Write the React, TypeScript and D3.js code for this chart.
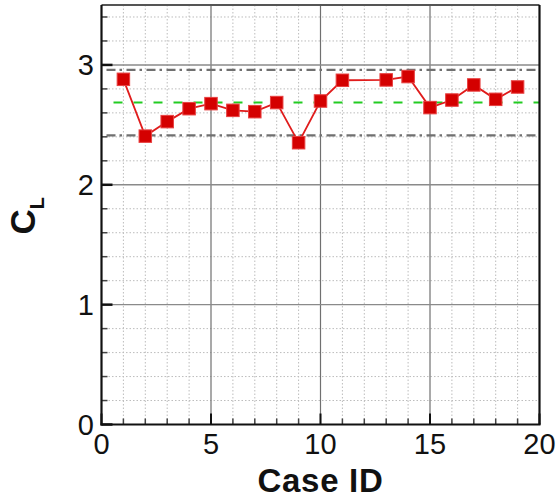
import React from "react";
import * as d3 from "d3";

// Lift coefficient for each case
const caseIds = [1, 2, 3, 4, 5, 6, 7, 8, 9, 10, 11, 13, 14, 15, 16, 17, 18, 19];
const clValues = [2.88, 2.406, 2.527, 2.635, 2.677, 2.621, 2.61, 2.686, 2.351, 2.699, 2.872, 2.875, 2.903, 2.644, 2.707, 2.833, 2.713, 2.816];

// Reference levels: mean and the upper/lower bounds
const meanLevel = 2.686;
const boundLevels = [2.958, 2.412];

const xTicks = [0, 5, 10, 15, 20];
const yTicks = [0, 1, 2, 3];

const W = 559;
const H = 502;
const left = 101.5;
const right = 539.5;
const top = 5;
const bottom = 424.5;

export default function App() {
  const x = d3.scaleLinear().domain([0, 20]).range([left, right]);
  const y = d3.scaleLinear().domain([0, 3.5]).range([bottom, top]);

  const xMinor = d3.range(1, 20).filter((v) => v % 5 !== 0);
  const yMinor = d3.range(1, 18).map((i) => +(i * 0.2).toFixed(2)).filter((v) => Math.abs(v - Math.round(v)) > 1e-6);

  const line = d3
    .line<number>()
    .x((_, i) => x(caseIds[i]))
    .y((d) => y(d));

  const font = "'Liberation Sans', Arial, Helvetica, sans-serif";
  const m = 12.5;

  return (
    <svg
      width={W}
      height={H}
      style={{ position: "absolute", left: 0, top: 0, background: "#fff" }}
      fontFamily={font}
    >
      {/* minor grid */}
      {xMinor.map((v) => (
        <line key={"xm" + v} x1={x(v)} x2={x(v)} y1={top} y2={bottom} stroke="#bcbcbc" strokeWidth={1} strokeDasharray="1.5,2" />
      ))}
      {yMinor.map((v) => (
        <line key={"ym" + v} x1={left} x2={right} y1={y(v)} y2={y(v)} stroke="#bcbcbc" strokeWidth={1} strokeDasharray="1.5,2" />
      ))}
      {/* major grid */}
      {xTicks.slice(1, -1).map((v) => (
        <line key={"xg" + v} x1={x(v)} x2={x(v)} y1={top} y2={bottom} stroke="#707070" strokeWidth={1.2} />
      ))}
      {yTicks.slice(1).map((v) => (
        <line key={"yg" + v} x1={left} x2={right} y1={y(v)} y2={y(v)} stroke="#8a8a8a" strokeWidth={1.4} />
      ))}

      {/* reference lines */}
      {boundLevels.map((v) => (
        <line key={"b" + v} x1={left} x2={right} y1={y(v)} y2={y(v)} stroke="#707070" strokeWidth={2.2} strokeDasharray="9,4,2.5,4.5" strokeDashoffset={-5} />
      ))}
      <line x1={left + 12} x2={right} y1={y(meanLevel)} y2={y(meanLevel)} stroke="#22cc22" strokeWidth={2} strokeDasharray="9,11" />

      {/* minor ticks */}
      {xMinor.map((v) => (
        <line key={"xt" + v} x1={x(v)} x2={x(v)} y1={bottom} y2={bottom - 6} stroke="#444" strokeWidth={1.5} />
      ))}
      {yMinor.map((v) => (
        <line key={"yt" + v} x1={left} x2={left + 6} y1={y(v)} y2={y(v)} stroke="#444" strokeWidth={1.5} />
      ))}
      {/* major ticks */}
      {xTicks.map((v) => (
        <line key={"xT" + v} x1={x(v)} x2={x(v)} y1={bottom} y2={bottom - 11} stroke="#111" strokeWidth={2} />
      ))}
      {yTicks.map((v) => (
        <line key={"yT" + v} x1={left} x2={left + 11} y1={y(v)} y2={y(v)} stroke="#111" strokeWidth={2.5} />
      ))}

      {/* frame */}
      <line x1={left} x2={right} y1={top} y2={top} stroke="#555" strokeWidth={2} />
      <line x1={right} x2={right} y1={top} y2={bottom} stroke="#111" strokeWidth={2.2} />
      <line x1={left} x2={left} y1={top} y2={bottom + 1} stroke="#111" strokeWidth={2.2} />
      <line x1={left - 1} x2={right + 1} y1={bottom} y2={bottom} stroke="#111" strokeWidth={2.2} />

      {/* series */}
      <path d={line(clValues) || ""} fill="none" stroke="#e01c1c" strokeWidth={1.8} />
      {clValues.map((v, i) => (
        <rect
          key={"p" + i}
          x={x(caseIds[i]) - m / 2}
          y={y(v) - m / 2}
          width={m}
          height={m}
          fill="#d40000"
          stroke="#e84040"
          strokeWidth={1}
        />
      ))}

      {/* tick labels */}
      {xTicks.map((v) => (
        <text key={"xl" + v} x={x(v)} y={454} textAnchor="middle" fontSize={29} fill="#111">
          {v}
        </text>
      ))}
      {yTicks.map((v) => (
        <text key={"yl" + v} x={94} y={y(v)} dy="0.36em" textAnchor="end" fontSize={29} fill="#111">
          {v}
        </text>
      ))}

      {/* axis titles */}
      <text x={(left + right) / 2} y={491.5} textAnchor="middle" fontSize={33} fontWeight="bold" letterSpacing={0.7} fill="#111">
        Case ID
      </text>
      <text transform={`translate(35,${(top + bottom) / 2 + 1}) rotate(-90)`} textAnchor="middle" fontSize={35} fontWeight="bold" fill="#111">
        C<tspan fontSize={20} dy={9}>L</tspan>
      </text>
    </svg>
  );
}
